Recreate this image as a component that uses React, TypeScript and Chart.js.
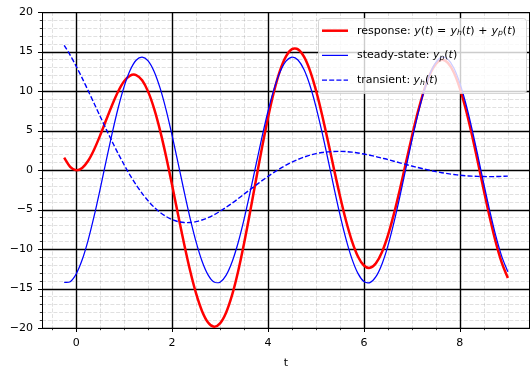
import { useEffect, useRef } from 'react';
import { Chart, registerables } from 'chart.js';

Chart.register(...registerables);

// ---- data ----
const tValues = [
  -0.25, -0.125, 0, 0.125, 0.25, 0.375, 0.5, 0.625, 0.75, 0.875,
  1, 1.125, 1.25, 1.375, 1.5, 1.625, 1.75, 1.875, 2, 2.125,
  2.25, 2.375, 2.5, 2.625, 2.75, 2.875, 3, 3.125, 3.25, 3.375,
  3.5, 3.625, 3.75, 3.875, 4, 4.125, 4.25, 4.375, 4.5, 4.625,
  4.75, 4.875, 5, 5.125, 5.25, 5.375, 5.5, 5.625, 5.75, 5.875,
  6, 6.125, 6.25, 6.375, 6.5, 6.625, 6.75, 6.875, 7, 7.125,
  7.25, 7.375, 7.5, 7.625, 7.75, 7.875, 8, 8.125, 8.25, 8.375,
  8.5, 8.625, 8.75, 8.875, 9,
];

const steadyState = [
  -14.23, -14.14, -13.16, -11.37, -8.87, -5.82, -2.41, 1.15, 4.64, 7.85,
  10.56, 12.62, 13.89, 14.3, 13.82, 12.48, 10.36, 7.61, 4.37, 0.87,
  -2.69, -6.08, -9.09, -11.54, -13.27, -14.18, -14.2, -13.34, -11.65, -9.24,
  -6.25, -2.87, 0.68, 4.19, 7.44, 10.23, 12.39, 13.77, 14.3, 13.93,
  12.71, 10.69, 8.0, 4.82, 1.34, -2.22, -5.65, -8.72, -11.25, -13.09,
  -14.11, -14.25, -13.5, -11.92, -9.6, -6.67, -3.34, 0.21, 3.74, 7.04,
  9.9, 12.14, 13.63, 14.28, 14.03, 12.92, 11.0, 8.39, 5.27, 1.81,
  -1.75, -5.21, -8.34, -10.96, -12.89,
];

const transient = [
  15.79, 14.54, 13.13, 11.63, 10.04, 8.42, 6.79, 5.17, 3.59, 2.08,
  0.66, -0.67, -1.87, -2.95, -3.9, -4.71, -5.37, -5.89, -6.28, -6.53,
  -6.65, -6.65, -6.54, -6.33, -6.03, -5.66, -5.22, -4.73, -4.2, -3.64,
  -3.06, -2.48, -1.91, -1.35, -0.81, -0.3, 0.18, 0.61, 1.0, 1.34,
  1.63, 1.88, 2.07, 2.21, 2.3, 2.35, 2.36, 2.33, 2.26, 2.15,
  2.02, 1.87, 1.7, 1.51, 1.32, 1.11, 0.91, 0.7, 0.5, 0.31,
  0.13, -0.04, -0.2, -0.34, -0.46, -0.57, -0.66, -0.73, -0.78, -0.81,
  -0.83, -0.84, -0.83, -0.8, -0.77,
];

const response = [
  1.56, 0.4, -0.03, 0.26, 1.17, 2.6, 4.38, 6.32, 8.23, 9.93,
  11.22, 11.95, 12.02, 11.35, 9.92, 7.77, 4.99, 1.72, -1.91, -5.66,
  -9.34, -12.73, -15.63, -17.87, -19.3, -19.84, -19.42, -18.07, -15.85, -12.88,
  -9.31, -5.35, -1.23, 2.84, 6.63, 9.93, 12.57, 14.38, 15.3, 15.27,
  14.34, 12.57, 10.07, 7.03, 3.64, 0.13, -3.29, -6.39, -8.99, -10.94,
  -12.09, -12.38, -11.8, -10.41, -8.28, -5.56, -2.43, 0.91, 4.24, 7.35,
  10.03, 12.1, 13.43, 13.94, 13.57, 12.35, 10.34, 7.66, 4.49, 1.0,
  -2.58, -6.05, -9.17, -11.76, -13.66,
];

const xMajorTicks = [0, 2, 4, 6, 8];
const yMajorTicks = [-20, -15, -10, -5, 0, 5, 10, 15, 20];
const xRange = [-0.7125, 9.4625];
const yRange = [-20, 20];
const xMinorStep = 0.5;
const yMinorStep = 1;
const xAxisTitle = 't';

type Part = { t: string; it?: boolean; sub?: boolean };
const responseLabel: Part[] = [
  { t: 'response: ' },
  { t: 'y', it: true }, { t: '(' }, { t: 't', it: true }, { t: ')' },
  { t: ' = ' },
  { t: 'y', it: true }, { t: 'h', it: true, sub: true }, { t: '(' }, { t: 't', it: true }, { t: ')' },
  { t: ' + ' },
  { t: 'y', it: true }, { t: 'p', it: true, sub: true }, { t: '(' }, { t: 't', it: true }, { t: ')' },
];
const steadyLabel: Part[] = [
  { t: 'steady-state: ' },
  { t: 'y', it: true }, { t: 'p', it: true, sub: true }, { t: '(' }, { t: 't', it: true }, { t: ')' },
];
const transientLabel: Part[] = [
  { t: 'transient: ' },
  { t: 'y', it: true }, { t: 'h', it: true, sub: true }, { t: '(' }, { t: 't', it: true }, { t: ')' },
];

const FONT = '"DejaVu Sans"';
const FS = 11;

const legendEntries = [
  { color: '#ff0000', width: 2.5, dash: [] as number[], parts: responseLabel },
  { color: '#0000ff', width: 1.25, dash: [] as number[], parts: steadyLabel },
  { color: '#0000ff', width: 1.4, dash: [5, 2.2], parts: transientLabel },
];

function minorValues(min: number, max: number, step: number, majorEvery: number) {
  const out: number[] = [];
  const start = Math.ceil(min / step);
  const end = Math.floor(max / step);
  for (let i = start; i <= end; i++) {
    const v = i * step;
    const r = v / majorEvery;
    if (Math.abs(r - Math.round(r)) > 1e-9) out.push(v);
  }
  return out;
}

const gridPlugin = {
  id: 'mplGrid',
  beforeDatasetsDraw(chart: any) {
    const { ctx, chartArea: a, scales } = chart;
    const xs = scales.x;
    const ys = scales.y;
    ctx.save();
    ctx.beginPath();
    ctx.rect(a.left, a.top, a.right - a.left, a.bottom - a.top);
    ctx.clip();
    // minor grid
    ctx.strokeStyle = 'rgba(0,0,0,0.12)';
    ctx.lineWidth = 1;
    ctx.setLineDash([4, 1.7]);
    for (const v of minorValues(xRange[0], xRange[1], xMinorStep, 2)) {
      const px = Math.round(xs.getPixelForValue(v)) + 0.5;
      ctx.beginPath(); ctx.moveTo(px, a.top); ctx.lineTo(px, a.bottom); ctx.stroke();
    }
    for (const v of minorValues(yRange[0], yRange[1], yMinorStep, 5)) {
      const py = Math.round(ys.getPixelForValue(v)) + 0.5;
      ctx.beginPath(); ctx.moveTo(a.left, py); ctx.lineTo(a.right, py); ctx.stroke();
    }
    // major grid
    ctx.setLineDash([]);
    ctx.strokeStyle = '#000';
    ctx.lineWidth = 1.4;
    for (const v of xMajorTicks) {
      const px = Math.round(xs.getPixelForValue(v)) + 0.5;
      ctx.beginPath(); ctx.moveTo(px, a.top); ctx.lineTo(px, a.bottom); ctx.stroke();
    }
    for (const v of yMajorTicks) {
      const py = Math.round(ys.getPixelForValue(v)) + 0.5;
      ctx.beginPath(); ctx.moveTo(a.left, py); ctx.lineTo(a.right, py); ctx.stroke();
    }
    ctx.restore();

    // tick marks (outside)
    ctx.save();
    ctx.strokeStyle = '#000';
    ctx.lineWidth = 1;
    for (const v of xMajorTicks) {
      const px = Math.round(xs.getPixelForValue(v)) + 0.5;
      ctx.beginPath(); ctx.moveTo(px, a.bottom); ctx.lineTo(px, a.bottom + 4); ctx.stroke();
    }
    for (const v of yMajorTicks) {
      const py = Math.round(ys.getPixelForValue(v)) + 0.5;
      ctx.beginPath(); ctx.moveTo(a.left, py); ctx.lineTo(a.left - 4, py); ctx.stroke();
    }
    ctx.lineWidth = 0.8;
    for (const v of minorValues(xRange[0], xRange[1], xMinorStep, 2)) {
      const px = Math.round(xs.getPixelForValue(v)) + 0.5;
      ctx.beginPath(); ctx.moveTo(px, a.bottom); ctx.lineTo(px, a.bottom + 2.2); ctx.stroke();
    }
    for (const v of minorValues(yRange[0], yRange[1], yMinorStep, 5)) {
      const py = Math.round(ys.getPixelForValue(v)) + 0.5;
      ctx.beginPath(); ctx.moveTo(a.left, py); ctx.lineTo(a.left - 2.2, py); ctx.stroke();
    }
    ctx.restore();
  },
  afterDatasetsDraw(chart: any) {
    const { ctx, chartArea: a } = chart;
    ctx.save();
    // frame
    ctx.strokeStyle = '#000';
    ctx.lineWidth = 1;
    ctx.strokeRect(Math.round(a.left) + 0.5, Math.round(a.top) + 0.5,
      Math.round(a.right - a.left) - 1, Math.round(a.bottom - a.top));

    // legend
    const w = 208;
    const h = 75;
    const x0 = a.right - w - 4;
    const y0 = a.top + 6;
    ctx.beginPath();
    if ((ctx as any).roundRect) (ctx as any).roundRect(x0 + 0.5, y0 + 0.5, w, h, 3);
    else ctx.rect(x0 + 0.5, y0 + 0.5, w, h);
    ctx.fillStyle = 'rgba(255,255,255,0.8)';
    ctx.fill();
    ctx.strokeStyle = 'rgba(204,204,204,0.8)';
    ctx.lineWidth = 1;
    ctx.stroke();

    legendEntries.forEach((e, i) => {
      const cy = y0 + 12.7 + i * 24.7;
      ctx.beginPath();
      ctx.strokeStyle = e.color;
      ctx.lineWidth = e.width;
      ctx.setLineDash(e.dash);
      ctx.moveTo(x0 + 4, cy);
      ctx.lineTo(x0 + 30, cy);
      ctx.stroke();
      ctx.setLineDash([]);
      let cx = x0 + 39;
      ctx.fillStyle = '#000';
      ctx.textBaseline = 'middle';
      ctx.textAlign = 'left';
      for (const p of e.parts) {
        const size = p.sub ? 7.7 : FS;
        ctx.font = `${p.it ? 'italic ' : ''}${size}px ${FONT}`;
        ctx.fillText(p.t, cx, p.sub ? cy + 2.8 : cy);
        cx += ctx.measureText(p.t).width + (p.t.startsWith(' ') ? 0.6 : 0);
      }
    });
    ctx.restore();
  },
};

function toPoints(ys: number[]) {
  return tValues.map((t, i) => ({ x: t, y: ys[i] }));
}

const fmt = (v: number) => (v < 0 ? '\u2212' + Math.abs(v) : String(v));

export default function App() {
  const canvasRef = useRef<HTMLCanvasElement | null>(null);

  useEffect(() => {
    const canvas = canvasRef.current;
    if (!canvas) return;
    const chart = new Chart(canvas, {
      type: 'line',
      data: {
        datasets: [
          {
            label: 'transient',
            data: toPoints(transient),
            borderColor: '#0000ff',
            borderWidth: 1.4,
            borderDash: [5, 2.2],
            pointRadius: 0,
            tension: 0.3,
            fill: false,
          },
          {
            label: 'steady-state',
            data: toPoints(steadyState),
            borderColor: '#0000ff',
            borderWidth: 1.25,
            pointRadius: 0,
            tension: 0.3,
            fill: false,
          },
          {
            label: 'response',
            data: toPoints(response),
            borderColor: '#ff0000',
            borderWidth: 2.5,
            pointRadius: 0,
            tension: 0.3,
            fill: false,
          },
        ],
      },
      options: {
        animation: false,
        responsive: true,
        maintainAspectRatio: false,
        events: [],
        parsing: false as any,
        layout: { padding: { top: 12, right: 1, left: 0, bottom: 0 } },
        plugins: {
          legend: { display: false },
          tooltip: { enabled: false },
        },
        scales: {
          x: {
            type: 'linear',
            min: xRange[0],
            max: xRange[1],
            grid: { display: false, drawTicks: false },
            border: { display: false },
            afterBuildTicks: (s: any) => {
              s.ticks = xMajorTicks.map((v) => ({ value: v }));
            },
            ticks: {
              padding: 9,
              color: '#000',
              font: { size: FS, family: FONT },
              maxRotation: 0,
              autoSkip: false,
              callback: (v: any) => fmt(Number(v)),
            },
            title: {
              display: true,
              text: xAxisTitle,
              color: '#000',
              font: { size: FS, family: FONT },
              padding: { top: 0, bottom: -1.5 },
            },
            afterFit: (s: any) => {
              s.height = 40;
              s.paddingLeft = 0;
              s.paddingRight = 0;
            },
          },
          y: {
            type: 'linear',
            min: yRange[0],
            max: yRange[1],
            grid: { display: false, drawTicks: false },
            border: { display: false },
            afterBuildTicks: (s: any) => {
              s.ticks = yMajorTicks.map((v) => ({ value: v }));
            },
            ticks: {
              padding: 9,
              color: '#000',
              font: { size: FS, family: FONT },
              autoSkip: false,
              callback: (v: any) => fmt(Number(v)),
            },
            afterFit: (s: any) => {
              s.width = 42;
              s.paddingTop = 0;
              s.paddingBottom = 0;
            },
          },
        },
      },
      plugins: [gridPlugin],
    });
    return () => chart.destroy();
  }, []);

  return (
    <div style={{ position: 'absolute', left: 0, top: 0, width: 531, height: 368 }}>
      <canvas ref={canvasRef} />
    </div>
  );
}
